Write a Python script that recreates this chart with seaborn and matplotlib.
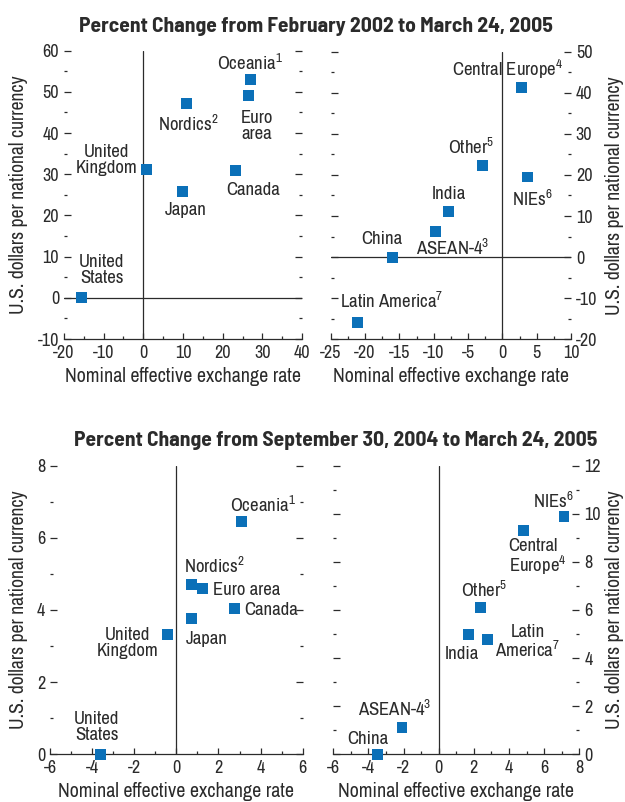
import matplotlib
matplotlib.use('Agg')
import matplotlib.pyplot as plt
from matplotlib.ticker import MultipleLocator
import seaborn as sns

# --- data ---
tl_x = [-15.5, 0.9, 11.0, 9.9, 26.9, 26.6, 23.3]
tl_y = [0.0, 31.2, 47.1, 25.7, 52.9, 49.1, 31.0]
tl_labels = ['United\nStates', 'United\nKingdom', 'Nordics$^{2}$', 'Japan',
             'Oceania$^{1}$', 'Euro\narea', 'Canada']

tr_x = [2.8, -2.9, 3.7, -7.8, -9.7, -16.0, -21.1]
tr_y = [41.2, 22.3, 19.5, 11.2, 6.2, 0.0, -15.8]
tr_labels = ['Central Europe$^{4}$', 'Other$^{5}$', 'NIEs$^{6}$', 'India',
             'ASEAN-4$^{3}$', 'China', 'Latin America$^{7}$']

bl_x = [-3.6, -0.41, 0.73, 1.25, 2.77, 0.71, 3.10]
bl_y = [0.0, 3.31, 4.71, 4.59, 4.03, 3.76, 6.45]
bl_labels = ['United\nStates', 'United\nKingdom', 'Nordics$^{2}$', 'Euro area',
             'Canada', 'Japan', 'Oceania$^{1}$']

br_x = [7.13, 4.83, 2.39, 1.72, 2.80, -2.09, -3.46]
br_y = [9.88, 9.29, 6.12, 4.97, 4.76, 1.1, 0.0]
br_labels = ['NIEs$^{6}$', 'Central\nEurope$^{4}$', 'Other$^{5}$', 'India',
             'Latin\nAmerica$^{7}$', 'ASEAN-4$^{3}$', 'China']

title_top = 'Percent Change from February 2002 to March 24, 2005'
title_bottom = 'Percent Change from September 30, 2004 to March 24, 2005'
xlab = 'Nominal effective exchange rate'
ylab = 'U.S. dollars per national currency'

# label placement: pixel offsets from marker centre (dx, dy down), alignment
tl_pos = [(20, -28, 'center'), (-40, -9, 'center'), (1, 20, 'center'), (3, 18, 'center'),
          (0, -17, 'center'), (8, 30, 'center'), (17, 20, 'center')]
tr_pos = [(-14, -18, 'center'), (-11, -19, 'center'), (5, 22, 'center'), (0, -17, 'center'),
          (17, 16, 'center'), (-11, -18, 'center'), (34, -21, 'center')]
bl_pos = [(-4, -27, 'center'), (-40, 8, 'center'), (23, -18, 'center'), (10, 1, 'left'),
          (10, 1, 'left'), (15, 20, 'center'), (21, -17, 'center')]
br_pos = [(-11, -16, 'center'), (-15, 27, 'left'), (3, -17, 'center'), (-7, 19, 'center'),
          (40, 2, 'center'), (-7, -19, 'center'), (-10, -15, 'center')]

sns.set_style('white')
BODY = 'Archivo Narrow'
plt.rcParams['font.family'] = [BODY, 'DejaVu Sans']
plt.rcParams['mathtext.fontset'] = 'custom'
plt.rcParams['mathtext.rm'] = BODY
plt.rcParams['mathtext.default'] = 'regular'
plt.rcParams['axes.unicode_minus'] = False

BLUE = '#0b70b8'
INK = '#2b2b2b'
W, H = 625, 802


def panel(rect_px, x, y, labels, pos, xlim, ylim, xstep, ystep, side):
    l, t, r, b = rect_px
    ax = fig.add_axes([l / W, 1 - b / H, (r - l) / W, (b - t) / H])
    sns.scatterplot(x=x, y=y, ax=ax, marker='s', s=62, color=BLUE,
                    edgecolor='none', linewidth=0, zorder=3, clip_on=False)
    ax.axvline(0, color=INK, lw=0.9, zorder=1)
    if ylim[0] < 0:
        ax.axhline(0, color=INK, lw=0.9, zorder=1)
    ax.set_xlim(xlim)
    ax.set_ylim(ylim)
    ax.xaxis.set_major_locator(MultipleLocator(xstep[0]))
    ax.xaxis.set_minor_locator(MultipleLocator(xstep[1]))
    ax.yaxis.set_major_locator(MultipleLocator(ystep[0]))
    ax.yaxis.set_minor_locator(MultipleLocator(ystep[1]))
    for s in ['top', 'left', 'right']:
        ax.spines[s].set_visible(False)
    ax.spines['bottom'].set_color(INK)
    ax.spines['bottom'].set_linewidth(0.9)
    ax.tick_params(axis='x', which='both', direction='in', bottom=True, top=False,
                   color=INK, width=0.9, labelsize=13, labelcolor=INK, pad=4)
    ax.tick_params(axis='x', which='major', length=4)
    ax.tick_params(axis='x', which='minor', length=2.5)
    ax.tick_params(axis='y', which='both', direction='in', left=True, right=True,
                   labelleft=(side == 'left'), labelright=(side == 'right'),
                   color=INK, width=0.9, labelsize=13, labelcolor=INK, pad=3.5)
    ax.tick_params(axis='y', which='major', length=5)
    ax.tick_params(axis='y', which='minor', length=2.5)
    ax.set_xlabel(xlab, fontsize=14.4, color=INK)
    ax.xaxis.label.set_va('center')
    ax.xaxis.set_label_coords(0.5, -37 / (b - t))
    ax.set_ylabel(ylab, fontsize=14.2, color=INK)
    ax.yaxis.label.set_va('center')
    if side == 'left':
        ax.yaxis.set_label_coords((19 - l) / (r - l), 0.5)
    else:
        ax.yaxis.set_label_coords((615 - l) / (r - l), 0.5)
    for xi, yi, lab, (dx, dy, ha) in zip(x, y, labels, pos):
        ax.annotate(lab, (xi, yi), xytext=(dx * 0.72, -dy * 0.72),
                    textcoords='offset points', ha=ha, va='center',
                    fontsize=13.5, color=INK, linespacing=1.0,
                    multialignment=ha)
    return ax


fig = plt.figure(figsize=(W / 100, H / 100), dpi=100)

panel((64, 50.7, 302, 339), tl_x, tl_y, tl_labels, tl_pos,
      (-20, 40), (-10, 60), (10, 5), (10, 5), 'left')
panel((330.7, 51.7, 571, 339.3), tr_x, tr_y, tr_labels, tr_pos,
      (-25, 10), (-20, 50), (5, 2.5), (10, 5), 'right')
panel((50, 465.7, 302.7, 754.3), bl_x, bl_y, bl_labels, bl_pos,
      (-6, 6), (0, 8), (2, 1), (2, 1), 'left')
panel((333.3, 465.7, 579.3, 754.3), br_x, br_y, br_labels, br_pos,
      (-6, 8), (0, 12), (2, 1), (2, 1), 'right')

TITLE_FONT = ['Barlow Semi Condensed', 'DejaVu Sans']
fig.text(316 / W, 1 - 31.5 / H, title_top, ha='center', va='baseline',
         fontsize=15.5, fontweight='bold', color=INK, family=TITLE_FONT)
fig.text(336 / W, 1 - 446.5 / H, title_bottom, ha='center', va='baseline',
         fontsize=15.5, fontweight='bold', color=INK, family=TITLE_FONT)

fig.savefig('out.png', dpi=100)
